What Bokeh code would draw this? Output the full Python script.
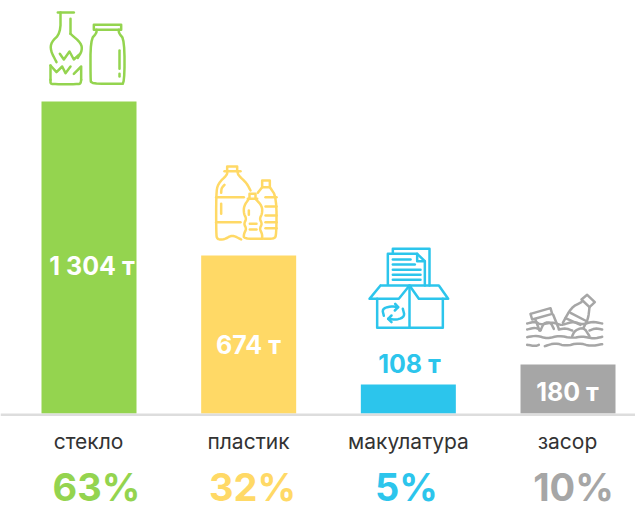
from bokeh.plotting import figure
from bokeh.models import Range1d, Span
from bokeh.core.properties import value
from bokeh.embed import file_html
from bokeh.resources import INLINE

# Data
categories = ["стекло", "пластик", "макулатура", "засор"]
value_labels = ["1 304 т", "674 т", "108 т", "180 т"]
percent_labels = ["63%", "32%", "5%", "10%"]
# Bars in the original are not strictly proportional to their labels;
# these tonnages are the drawn heights expressed on the 1 304 t scale.
bar_tons = [1304, 660, 121, 205]
colors = ["#94D44F", "#FFD966", "#2CC5EC", "#A6A6A6"]
icon_colors = ["#94D44F", "#FFD966", "#2CC5EC", "#A6A6A6"]

# Layout (page pixels)
W, H = 635, 505
xs = [0, 1, 2, 3]
value_label_x = [91.5, 248, 409, 567]
value_label_y = [265, 344, 363, 391]
category_x = [88, 248, 408, 567]
percent_x = [96, 252, 406, 573]

UNIT = 159.67
PX_PER_TON = 312 / 1304


def chaikin(pts, n=2):
    for _ in range(n):
        out = [pts[0]]
        for a, b in zip(pts, pts[1:]):
            out.append((0.75 * a[0] + 0.25 * b[0], 0.75 * a[1] + 0.25 * b[1]))
            out.append((0.25 * a[0] + 0.75 * b[0], 0.25 * a[1] + 0.75 * b[1]))
        out.append(pts[-1])
        pts = out
    return pts


GLASS = [
    (False, [(82, 36), (130, 36)]),
    (False, [(120, 55), (120, 100)]),
    (True, [(90, 36), (90, 98), (62, 125), (60, 150), (78, 185)]),
    (True, [(120, 100), (152, 128), (155, 150), (142, 172)]),
    (False, [(88, 160), (100, 177), (117, 153), (130, 177), (145, 163)]),
    (False, [(60, 195), (78, 215), (95, 198), (105, 218), (120, 198)]),
    (False, [(130, 220), (152, 198), (152, 238)]),
    (True, [(152, 238), (150, 250), (140, 251), (72, 251), (60, 250), (60, 238)]),
    (False, [(60, 238), (60, 195)]),
    (False, [(190, 73), (272, 73), (272, 88), (190, 88), (190, 73)]),
    (True, [(198, 88), (198, 98), (180, 118), (180, 235), (182, 250), (268, 250), (282, 250), (282, 118), (265, 98), (265, 88)]),
    (False, [(267, 150), (267, 205)]),
    (False, [(267, 220), (267, 228)]),
]
PLASTIC = [
    (False, [(80, 47), (80, 33), (110, 33), (110, 47)]),
    (False, [(72, 47), (120, 47)]),
    (True, [(80, 47), (80, 58), (52, 85), (47, 115), (47, 235), (50, 252), (72, 252), (95, 238), (122, 252)]),
    (True, [(112, 47), (112, 58), (138, 82), (150, 105)]),
    (False, [(47, 125), (130, 125)]),
    (False, [(47, 200), (120, 200)]),
    (True, [(62, 112), (63, 98), (72, 88)]),
    (False, [(62, 145), (62, 175)]),
    (False, [(147, 130), (147, 115), (165, 115), (165, 130)]),
    (False, [(142, 130), (170, 130)]),
    (True, [(145, 130), (130, 152), (130, 175), (138, 190), (130, 205), (138, 220), (130, 235), (130, 250), (185, 250)]),
    (True, [(165, 130), (185, 152), (185, 175), (177, 190), (185, 205), (177, 220), (185, 235), (185, 250)]),
    (False, [(148, 205), (168, 205)]),
    (False, [(148, 222), (168, 222)]),
    (False, [(145, 165), (145, 178)]),
    (False, [(185, 95), (185, 75), (208, 75), (208, 95), (185, 95)]),
    (False, [(185, 95), (172, 112)]),
    (True, [(208, 95), (228, 125), (228, 240), (220, 250), (190, 250)]),
    (False, [(195, 125), (228, 125)]),
    (False, [(195, 153), (228, 153)]),
    (False, [(195, 180), (228, 180)]),
    (False, [(195, 200), (228, 200)]),
    (False, [(195, 218), (228, 218)]),
]
PAPER = [
    (False, [(112, 40), (112, 25), (222, 25), (222, 135)]),
    (False, [(97, 133), (97, 40), (185, 40), (208, 62), (208, 135)]),
    (False, [(185, 40), (185, 62), (208, 62)]),
    (False, [(112, 57), (165, 57)]),
    (False, [(112, 72), (178, 72)]),
    (False, [(112, 88), (195, 88)]),
    (False, [(112, 103), (195, 103)]),
    (False, [(112, 118), (195, 118)]),
    (False, [(65, 175), (65, 262), (262, 262), (262, 175)]),
    (False, [(75, 135), (42, 175), (130, 175), (162, 135), (75, 135)]),
    (False, [(162, 135), (190, 175), (278, 175), (250, 135), (162, 135)]),
    (False, [(162, 135), (162, 262)]),
    (True, [(85, 226), (80, 205), (105, 197), (128, 200)]),
    (False, [(119, 190), (128, 200), (118, 210)]),
    (True, [(142, 205), (148, 228), (125, 238), (98, 235)]),
    (False, [(108, 225), (98, 235), (108, 245)]),
]
TRASH = [
    (False, [(45, 85), (105, 68), (110, 85), (50, 102), (45, 85)]),
    (False, [(60, 103), (72, 135)]),
    (False, [(113, 88), (130, 130)]),
    (True, [(75, 135), (85, 112), (105, 110), (115, 130)]),
    (False, [(198, 42), (215, 28), (238, 50), (222, 65), (198, 42)]),
    (True, [(198, 50), (168, 65), (142, 112)]),
    (True, [(222, 65), (218, 100), (205, 125)]),
    (False, [(165, 82), (215, 108)]),
    (False, [(150, 98), (195, 118)]),
    (True, [(170, 152), (178, 135), (205, 125), (222, 152)]),
    (True, [(35, 114), (60, 108), (75, 118), (110, 110), (135, 118)]),
    (True, [(140, 118), (175, 108), (200, 118), (230, 108), (260, 114)]),
    (True, [(35, 132), (60, 126), (75, 134)]),
    (True, [(130, 132), (150, 128), (170, 135)]),
    (True, [(222, 135), (240, 128), (260, 132)]),
    (True, [(35, 155), (65, 150), (95, 160), (130, 150), (170, 158), (200, 152), (235, 160), (260, 154)]),
    (True, [(35, 178), (60, 182), (70, 178)]),
    (True, [(88, 182), (120, 172), (150, 182), (190, 172), (225, 182), (260, 176)]),
]
ICONS = [(GLASS, 30, 0), (PLASTIC, 200, 155), (PAPER, 355, 240), (TRASH, 515, 285)]

p = figure(
    width=W, height=H, output_backend="svg", toolbar_location=None,
    x_range=Range1d(-88.5 / UNIT, (W - 88.5) / UNIT),
    y_range=Range1d(-(H - 413) / PX_PER_TON, 413 / PX_PER_TON),
    x_axis_type=None, y_axis_type=None,
    min_border=0, min_border_left=0, min_border_right=0, min_border_top=0, min_border_bottom=0,
    outline_line_color=None, background_fill_color="white", border_fill_color="white",
)
p.grid.visible = False
p.extra_x_ranges["page"] = Range1d(0, W)
p.extra_y_ranges["page"] = Range1d(H, 0)

p.add_layout(Span(dimension="width", location=414.2, y_range_name="page",
                  line_color="#DDDDDD", line_width=2.4))
# the baseline starts 8px in from the left edge: mask that stub with a white segment
p.segment(x0=[0], x1=[8], y0=[414.2], y1=[414.2], x_range_name="page", y_range_name="page",
          line_color="white", line_width=4)

p.vbar(x=xs, top=bar_tons, bottom=0, width=95 / UNIT, fill_color=colors, line_color=None)

FONT = value("Inter")
p.text(x=value_label_x, y=value_label_y, text=value_labels, x_range_name="page", y_range_name="page",
       text_font=FONT, text_font_style="bold", text_font_size="25px",
       text_color=["#FFFFFF", "#FFFFFF", colors[2], "#FFFFFF"], text_align="center", text_baseline="middle")
p.text(x=category_x, y=[441] * 4, text=categories, x_range_name="page", y_range_name="page",
       text_font=FONT, text_font_size="21px", text_color="#333333",
       text_align="center", text_baseline="middle")
p.text(x=percent_x, y=[486] * 4, text=percent_labels, x_range_name="page", y_range_name="page",
       text_font=FONT, text_font_style="bold", text_font_size="38px", text_color=colors,
       text_align="center", text_baseline="middle")

for (paths, ox, oy), col in zip(ICONS, icon_colors):
    mx, my = [], []
    for rounded, pts in paths:
        if rounded:
            pts = chaikin(pts)
        mx.append([ox + a / 3 for a, _ in pts])
        my.append([oy + b / 3 for _, b in pts])
    p.multi_line(mx, my, x_range_name="page", y_range_name="page",
                 line_color=col, line_width=2.5, line_cap="round", line_join="round")

open("out.html", "w").write(file_html(p, INLINE))
